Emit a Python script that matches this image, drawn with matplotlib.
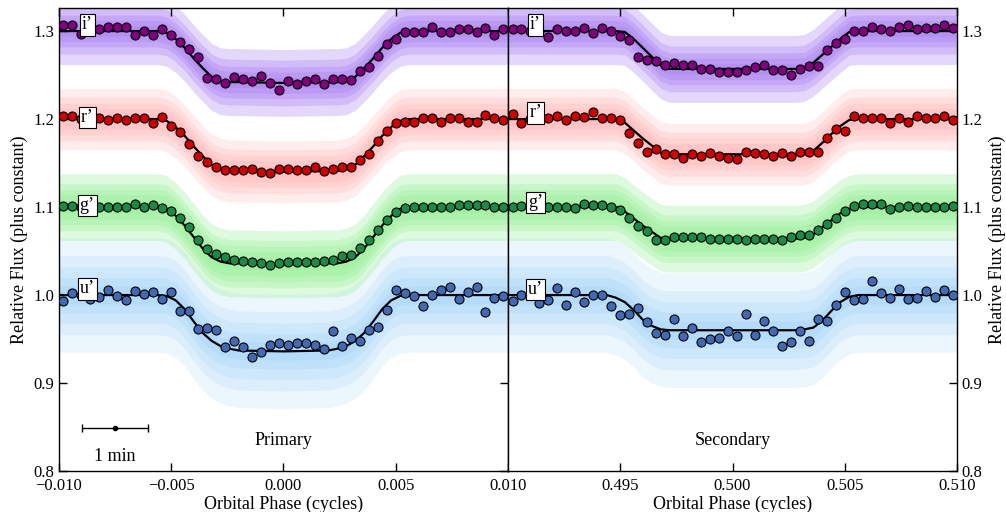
import numpy as np
import matplotlib
matplotlib.use("Agg")
import matplotlib.pyplot as plt

plt.rcParams['font.family'] = ['Liberation Serif', 'DejaVu Serif']

# binned light curves, 50 bins of 0.0004 in phase per panel
pri_bins = np.linspace(-0.0098, 0.0098, 50)
sec_bins = np.linspace(0.4902, 0.5098, 50)

i_pri = [1.307, 1.307, 1.297, 1.300, 1.302, 1.305, 1.305, 1.305, 1.295, 1.300,
         1.295, 1.302, 1.296, 1.288, 1.280, 1.271, 1.247, 1.245, 1.241, 1.248,
         1.245, 1.243, 1.249, 1.241, 1.233, 1.243, 1.240, 1.243, 1.245, 1.240,
         1.246, 1.246, 1.244, 1.255, 1.259, 1.272, 1.285, 1.291, 1.299, 1.299,
         1.299, 1.305, 1.299, 1.299, 1.302, 1.302, 1.299, 1.303, 1.296, 1.302]
i_sec = [1.302, 1.302, 1.300, 1.300, 1.293, 1.302, 1.300, 1.300, 1.303, 1.298,
         1.303, 1.300, 1.294, 1.290, 1.271, 1.267, 1.266, 1.262, 1.264, 1.262,
         1.261, 1.257, 1.257, 1.253, 1.254, 1.254, 1.256, 1.259, 1.261, 1.256,
         1.256, 1.250, 1.257, 1.260, 1.260, 1.279, 1.286, 1.291, 1.300, 1.300,
         1.305, 1.302, 1.300, 1.305, 1.307, 1.302, 1.303, 1.303, 1.307, 1.303]
r_pri = [1.204, 1.204, 1.200, 1.200, 1.201, 1.199, 1.201, 1.199, 1.201, 1.201,
         1.195, 1.202, 1.192, 1.185, 1.172, 1.158, 1.151, 1.146, 1.142, 1.142,
         1.142, 1.143, 1.140, 1.139, 1.143, 1.143, 1.142, 1.142, 1.146, 1.141,
         1.143, 1.146, 1.146, 1.154, 1.160, 1.175, 1.187, 1.196, 1.197, 1.197,
         1.201, 1.201, 1.197, 1.201, 1.201, 1.197, 1.197, 1.205, 1.201, 1.199]
r_sec = [1.206, 1.195, 1.200, 1.200, 1.201, 1.203, 1.199, 1.203, 1.202, 1.208,
         1.201, 1.201, 1.199, 1.184, 1.173, 1.163, 1.166, 1.160, 1.160, 1.156,
         1.160, 1.158, 1.161, 1.158, 1.156, 1.155, 1.163, 1.161, 1.160, 1.158,
         1.161, 1.158, 1.163, 1.163, 1.163, 1.179, 1.189, 1.186, 1.203, 1.201,
         1.201, 1.201, 1.195, 1.201, 1.197, 1.204, 1.201, 1.201, 1.203, 1.199]
g_pri = [1.101, 1.101, 1.100, 1.100, 1.100, 1.100, 1.100, 1.100, 1.103, 1.100,
         1.102, 1.099, 1.096, 1.087, 1.077, 1.062, 1.052, 1.047, 1.043, 1.040,
         1.039, 1.038, 1.036, 1.034, 1.036, 1.038, 1.038, 1.038, 1.037, 1.039,
         1.040, 1.044, 1.046, 1.054, 1.063, 1.074, 1.085, 1.094, 1.099, 1.100,
         1.100, 1.100, 1.100, 1.100, 1.102, 1.102, 1.102, 1.102, 1.100, 1.100]
g_sec = [1.100, 1.101, 1.100, 1.100, 1.100, 1.100, 1.100, 1.099, 1.103, 1.102,
         1.102, 1.100, 1.097, 1.087, 1.078, 1.073, 1.063, 1.063, 1.066, 1.066,
         1.066, 1.066, 1.064, 1.064, 1.064, 1.064, 1.063, 1.064, 1.064, 1.064,
         1.063, 1.066, 1.068, 1.068, 1.074, 1.081, 1.088, 1.095, 1.101, 1.103,
         1.103, 1.104, 1.098, 1.100, 1.101, 1.100, 1.100, 1.100, 1.100, 1.101]
u_pri = [0.993, 1.002, 1.000, 0.995, 0.998, 1.006, 0.999, 0.994, 1.005, 1.001,
         1.004, 0.995, 1.003, 0.982, 0.982, 0.961, 0.963, 0.960, 0.941, 0.948,
         0.941, 0.930, 0.935, 0.943, 0.946, 0.943, 0.945, 0.945, 0.943, 0.939,
         0.959, 0.942, 0.951, 0.948, 0.960, 0.964, 0.983, 1.006, 1.002, 0.999,
         0.988, 1.000, 1.006, 1.009, 0.996, 1.003, 1.009, 0.981, 0.997, 0.999]
u_sec = [0.993, 1.000, 1.000, 0.991, 0.994, 1.008, 0.989, 1.003, 0.992, 1.000,
         1.000, 0.988, 0.977, 0.979, 0.985, 0.969, 0.957, 0.955, 0.973, 0.953,
         0.962, 0.947, 0.950, 0.951, 0.959, 0.953, 0.979, 0.955, 0.970, 0.959,
         0.942, 0.947, 0.959, 0.948, 0.973, 0.971, 0.989, 1.003, 0.994, 0.995,
         1.016, 1.002, 0.997, 1.007, 0.995, 0.997, 1.005, 0.998, 1.006, 1.000]

# model light curves
pri_model_x = [-0.0100, -0.0056, -0.0052, -0.0048, -0.0044, -0.0040, -0.0036, -0.0032,
               -0.0028, -0.0024, -0.0020, 0.0000, 0.0020, 0.0024, 0.0028, 0.0032,
               0.0036, 0.0040, 0.0044, 0.0048, 0.0052, 0.0056, 0.0100]
i_pri_model = [1.300, 1.300, 1.298, 1.291, 1.281, 1.269, 1.258, 1.248, 1.243, 1.242, 1.242, 1.241,
               1.242, 1.242, 1.243, 1.248, 1.258, 1.269, 1.281, 1.291, 1.298, 1.300, 1.300]
r_pri_model = [1.200, 1.200, 1.198, 1.191, 1.181, 1.169, 1.158, 1.148, 1.143, 1.141, 1.141, 1.140,
               1.141, 1.141, 1.143, 1.148, 1.158, 1.169, 1.181, 1.191, 1.198, 1.200, 1.200]
g_pri_model = [1.100, 1.100, 1.098, 1.090, 1.079, 1.066, 1.053, 1.043, 1.038, 1.036, 1.036, 1.035,
               1.036, 1.036, 1.038, 1.043, 1.053, 1.066, 1.079, 1.090, 1.098, 1.100, 1.100]
u_pri_model = [1.000, 1.000, 0.999, 0.994, 0.984, 0.970, 0.957, 0.948, 0.942, 0.939, 0.937, 0.936,
               0.937, 0.939, 0.942, 0.948, 0.957, 0.970, 0.984, 0.994, 0.999, 1.000, 1.000]

sec_model_x = [0.4900, 0.4944, 0.4948, 0.4952, 0.4956, 0.4960, 0.4964, 0.4968, 0.4972, 0.5000,
               0.5028, 0.5032, 0.5036, 0.5040, 0.5044, 0.5048, 0.5052, 0.5056, 0.5100]
i_sec_model = [1.300, 1.300, 1.300, 1.299, 1.291, 1.281, 1.271, 1.261, 1.257, 1.257,
               1.257, 1.258, 1.264, 1.273, 1.282, 1.291, 1.299, 1.300, 1.300]
r_sec_model = [1.200, 1.200, 1.200, 1.196, 1.187, 1.178, 1.170, 1.162, 1.160, 1.160,
               1.160, 1.160, 1.164, 1.173, 1.183, 1.192, 1.199, 1.200, 1.200]
g_sec_model = [1.100, 1.100, 1.100, 1.095, 1.087, 1.079, 1.072, 1.065, 1.064, 1.064,
               1.064, 1.065, 1.069, 1.077, 1.085, 1.093, 1.098, 1.100, 1.100]
u_sec_model = [1.000, 1.000, 0.997, 0.992, 0.983, 0.972, 0.965, 0.961, 0.960, 0.960,
               0.960, 0.961, 0.963, 0.971, 0.982, 0.992, 0.998, 1.000, 1.000]

band_names = ['i’', 'r’', 'g’', 'u’']
cloud_colors = ['#a67cf2', '#ffa9aa', '#94f094', '#5bb2f5']
point_colors = ['#800080', '#d00000', '#1b8a45', '#4169b4']
# spread of the unbinned data about the model: half widths from dense core to sparse edge
cloud_widths = [[0.006, 0.012, 0.018, 0.026, 0.038],
                [0.006, 0.012, 0.018, 0.025, 0.035],
                [0.007, 0.014, 0.020, 0.027, 0.038],
                [0.010, 0.020, 0.032, 0.045, 0.065]]
cloud_alpha = [0.30, 0.22, 0.30, 0.11]
bin_err = [0.002, 0.0015, 0.0015, 0.0045]
label_y_pri = [1.307, 1.202, 1.102, 1.007]
label_y_sec = [1.307, 1.207, 1.105, 1.006]

pri_ticks = [-0.010, -0.005, 0.000, 0.005, 0.010]
pri_ticklabels = ['\u22120.010', '\u22120.005', '0.000', '0.005', '0.010']
sec_ticks = [0.495, 0.500, 0.505, 0.510]
sec_ticklabels = ['0.495', '0.500', '0.505', '0.510']
y_ticks = [0.8, 0.9, 1.0, 1.1, 1.2, 1.3]

fig = plt.figure(figsize=(10.06, 5.12), dpi=100)
ax1 = fig.add_axes([0.0586, 0.080, 0.4463, 0.904])
ax2 = fig.add_axes([0.505, 0.080, 0.4463, 0.904], sharey=ax1)

panels = [
    (ax1, pri_bins, [i_pri, r_pri, g_pri, u_pri], pri_model_x,
     [i_pri_model, r_pri_model, g_pri_model, u_pri_model], -0.00874, label_y_pri),
    (ax2, sec_bins, [i_sec, r_sec, g_sec, u_sec], sec_model_x,
     [i_sec_model, r_sec_model, g_sec_model, u_sec_model], 0.49123, label_y_sec),
]

for ax, bins, fluxes, mx, models, lab_x, lab_y in panels:
    # clouds of unbinned points, drawn as stacked soft bands around the model
    for j in [3, 2, 1, 0]:
        m = np.array(models[j])
        for w in cloud_widths[j]:
            ax.fill_between(mx, m - w, m + w, color=cloud_colors[j],
                            alpha=cloud_alpha[j], lw=0, zorder=1)
    for j in range(4):
        ax.plot(mx, models[j], color='black', lw=1.6, zorder=3)
        ax.errorbar(bins, fluxes[j], yerr=bin_err[j], fmt='o', ms=6.5,
                    mfc=point_colors[j], mec='black', mew=0.8,
                    ecolor='#1010ff', elinewidth=1.0, capsize=0, zorder=4)
        ax.text(lab_x, lab_y[j], band_names[j], ha='center', va='center', fontsize=13,
                bbox=dict(facecolor='white', edgecolor='black', lw=0.8, pad=1.5), zorder=5)

ax1.set_xlim(-0.010, 0.010)
ax2.set_xlim(0.490, 0.510)
ax1.set_ylim(0.8, 1.326)

ax1.set_xticks(pri_ticks)
ax1.set_xticklabels(pri_ticklabels)
ax2.set_xticks(sec_ticks)
ax2.set_xticklabels(sec_ticklabels)
ax1.set_yticks(y_ticks)
ax1.set_yticklabels(['%.1f' % v for v in y_ticks])

for ax in (ax1, ax2):
    ax.tick_params(direction='in', length=6, width=1.0, labelsize=12, top=True)
    ax.tick_params(axis='x', pad=5)
    ax.set_xlabel('Orbital Phase (cycles)', fontsize=13, labelpad=1)
    for s in ax.spines.values():
        s.set_linewidth(1.0)

ax1.tick_params(axis='y', right=True)
ax2.tick_params(axis='y', left=False, right=True, labelleft=False, labelright=True)
ax2.yaxis.set_label_position('right')
ax1.set_ylabel('Relative Flux (plus constant)', fontsize=13)
ax2.set_ylabel('Relative Flux (plus constant)', fontsize=13)

# one minute scale bar
ax1.errorbar(-0.0075, 0.849, xerr=0.00148, fmt='o', ms=3, color='black',
             lw=1.0, capsize=3, capthick=1.0)
ax1.text(-0.0075, 0.816, '1 min', ha='center', va='center', fontsize=13)
ax1.text(0.0, 0.835, 'Primary', ha='center', va='center', fontsize=13)
ax2.text(0.500, 0.835, 'Secondary', ha='center', va='center', fontsize=13)

fig.savefig('out.png', dpi=100)
